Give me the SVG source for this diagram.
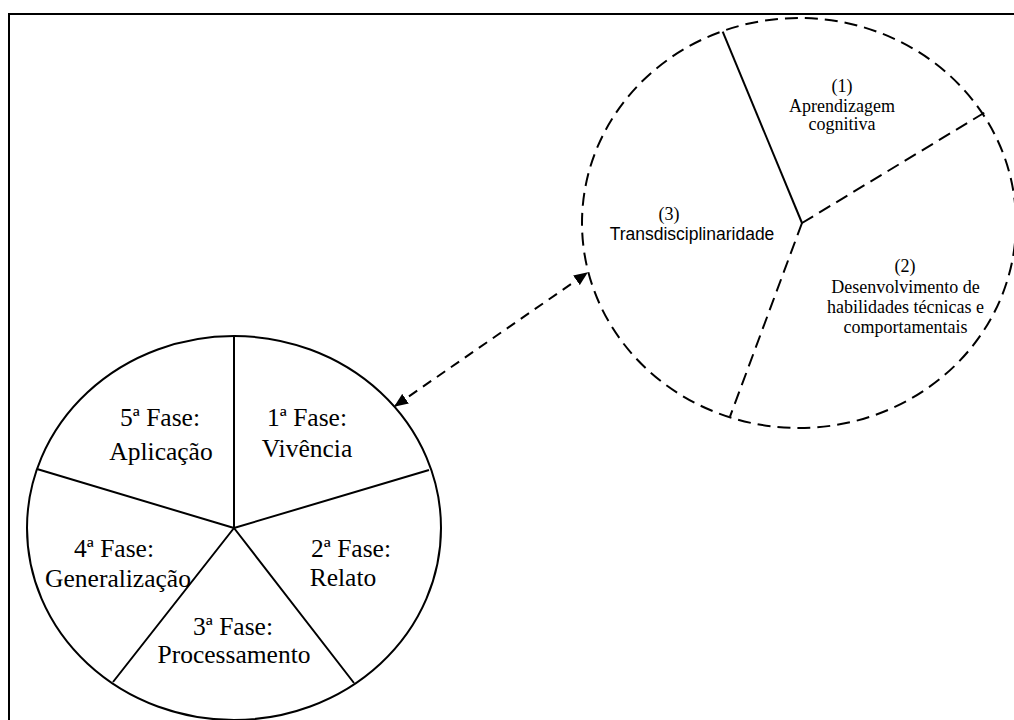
<svg xmlns="http://www.w3.org/2000/svg" width="1014" height="720" viewBox="0 0 1014 720">
<style>
.serif{font-family:"Liberation Serif","Times New Roman",serif;fill:#000;text-anchor:middle}
.big{font-size:25.5px}
.small{font-size:18px}
.sans{font-family:"Liberation Sans",Arial,sans-serif;font-size:17.5px;fill:#000;text-anchor:middle}
.solid{fill:none;stroke:#000;stroke-width:2}
.dash{fill:none;stroke:#000;stroke-width:2;stroke-dasharray:13 7}
</style>
<defs>
<marker id="ah" viewBox="0 0 12 10" refX="11" refY="5" markerWidth="14" markerHeight="12" markerUnits="userSpaceOnUse" orient="auto-start-reverse">
<path d="M0,0 L12,5 L0,10 z" fill="#000"/>
</marker>
</defs>
<rect width="1014" height="720" fill="#fff"/>
<g id="frame">
<path d="M9,740 L9,14 L1020,14" class="solid" stroke-width="2.2"/>
</g>
<g id="phases">
<ellipse cx="234" cy="528" rx="207" ry="192" class="solid"/>
<path d="M234,528 L234,336 M234,528 L429,470 M234,528 L354,683 M234,528 L113,682 M234,528 L37,469" class="solid"/>
</g>
<g id="phase1">
<text class="serif big" x="307" y="426">1ª Fase:</text>
<text class="serif big" x="307" y="457">Vivência</text>
</g>
<g id="phase2">
<text class="serif big" x="351" y="557">2ª Fase:</text>
<text class="serif big" x="343" y="586">Relato</text>
</g>
<g id="phase3">
<text class="serif big" x="233" y="635">3ª Fase:</text>
<text class="serif big" x="234" y="663">Processamento</text>
</g>
<g id="phase4">
<text class="serif big" x="114" y="557">4ª Fase:</text>
<text class="serif big" x="118" y="587">Generalização</text>
</g>
<g id="phase5">
<text class="serif big" x="160" y="426">5ª Fase:</text>
<text class="serif big" x="161" y="460">Aplicação</text>
</g>
<g id="pillars">
<ellipse cx="799" cy="223" rx="217" ry="205" class="dash"/>
<path d="M802,223 L722.7,31.7" class="solid"/>
<path d="M802,223 L986,111.7 M802,223 L730,416.7" class="dash"/>
</g>
<g id="pillar1">
<text class="serif small" x="842" y="92">(1)</text>
<text class="serif small" x="842" y="112">Aprendizagem</text>
<text class="serif small" x="842" y="130">cognitiva</text>
</g>
<g id="pillar2">
<text class="serif small" x="905" y="272">(2)</text>
<text class="serif small" x="905.5" y="293">Desenvolvimento de</text>
<text class="serif small" x="905.5" y="313">habilidades técnicas e</text>
<text class="serif small" x="905.5" y="333">comportamentais</text>
</g>
<g id="pillar3">
<text class="serif small" x="669" y="220">(3)</text>
<text class="sans" x="692" y="240">Transdisciplinaridade</text>
</g>
<g id="connectors">
<line x1="395" y1="406" x2="587" y2="273" stroke="#000" stroke-width="2" stroke-dasharray="10 7" marker-start="url(#ah)" marker-end="url(#ah)"/>
</g>
</svg>
